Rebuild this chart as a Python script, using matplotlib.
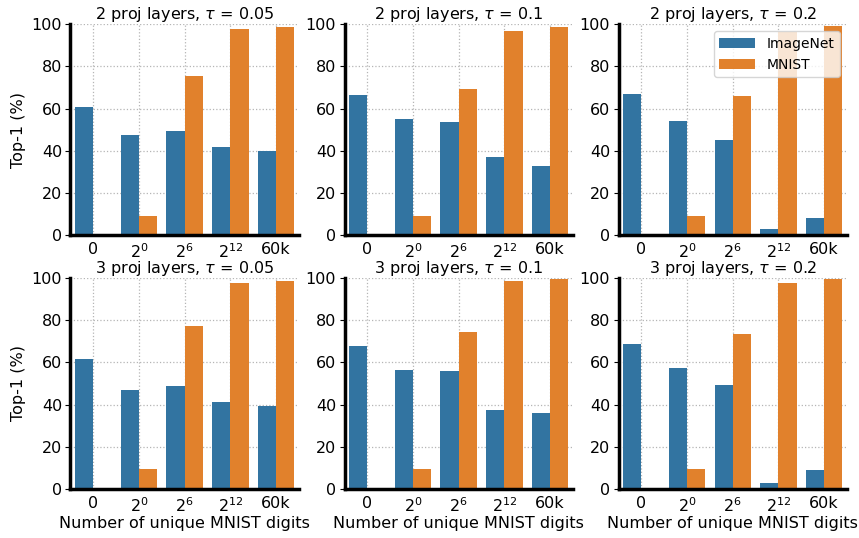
import numpy as np
import matplotlib
matplotlib.use('Agg')
import matplotlib.pyplot as plt

categories = ['0', '$2^0$', '$2^6$', '$2^{12}$', '60k']
layers = [2, 3]
taus = ['0.05', '0.1', '0.2']

# ImageNet / MNIST top-1 per panel, rows = proj layers, cols = tau
imagenet = [
    [[61.0, 47.4, 49.3, 41.7, 39.8],
     [66.7, 55.0, 53.5, 37.0, 32.7],
     [66.8, 54.0, 45.0, 3.3, 8.5]],
    [[61.4, 46.7, 48.6, 41.0, 39.1],
     [67.5, 56.2, 55.7, 37.2, 35.8],
     [68.5, 57.1, 49.1, 2.7, 8.8]],
]
mnist = [
    [[0.0, 9.0, 75.4, 97.6, 98.6],
     [0.0, 9.0, 69.2, 97.0, 98.9],
     [0.0, 9.0, 65.9, 96.2, 99.0]],
    [[0.0, 9.3, 77.0, 97.3, 98.3],
     [0.0, 9.3, 74.1, 98.3, 99.2],
     [0.0, 9.3, 73.2, 97.3, 99.2]],
]

c_in = '#3274a1'
c_mn = '#e1812c'

plt.rcParams['font.size'] = 11
fig, axes = plt.subplots(2, 3, figsize=(8.59, 5.38), dpi=100)
fig.subplots_adjust(left=0.082, right=0.986, top=0.955, bottom=0.091,
                    wspace=0.2, hspace=0.2)

x = np.arange(len(categories))
w = 0.4
for r in range(2):
    for c in range(3):
        ax = axes[r, c]
        ax.set_axisbelow(True)
        ax.grid(True, linestyle=':', color='#b5b5b5', linewidth=0.9)
        ax.bar(x - w / 2, imagenet[r][c], w, color=c_in, label='ImageNet')
        ax.bar(x + w / 2, mnist[r][c], w, color=c_mn, label='MNIST')
        ax.set_xlim(-0.5, 4.5)
        ax.set_ylim(0, 100)
        ax.set_xticks(x)
        ax.set_xticklabels(categories, fontsize=11.5)
        ax.set_yticks([0, 20, 40, 60, 80, 100])
        ax.tick_params(axis='y', labelsize=11.5, length=3.5, width=0.8, pad=2.5)
        ax.tick_params(axis='x', length=0, pad=5)
        for s in ['top', 'right']:
            ax.spines[s].set_visible(False)
        for s in ['left', 'bottom']:
            ax.spines[s].set_linewidth(2.5)
            ax.spines[s].set_color('black')
        ax.set_title(f'{layers[r]} proj layers, $\\tau$ = {taus[c]}', fontsize=11.5, pad=2)
        if c == 0:
            ax.set_ylabel('Top-1 (%)', fontsize=11.5)
        if r == 1:
            ax.set_xlabel('Number of unique MNIST digits', fontsize=11.5, labelpad=1)

axes[0, 2].legend(loc='upper right', fontsize=10, framealpha=0.8, handlelength=2.6)

fig.savefig('out.png', dpi=100)
